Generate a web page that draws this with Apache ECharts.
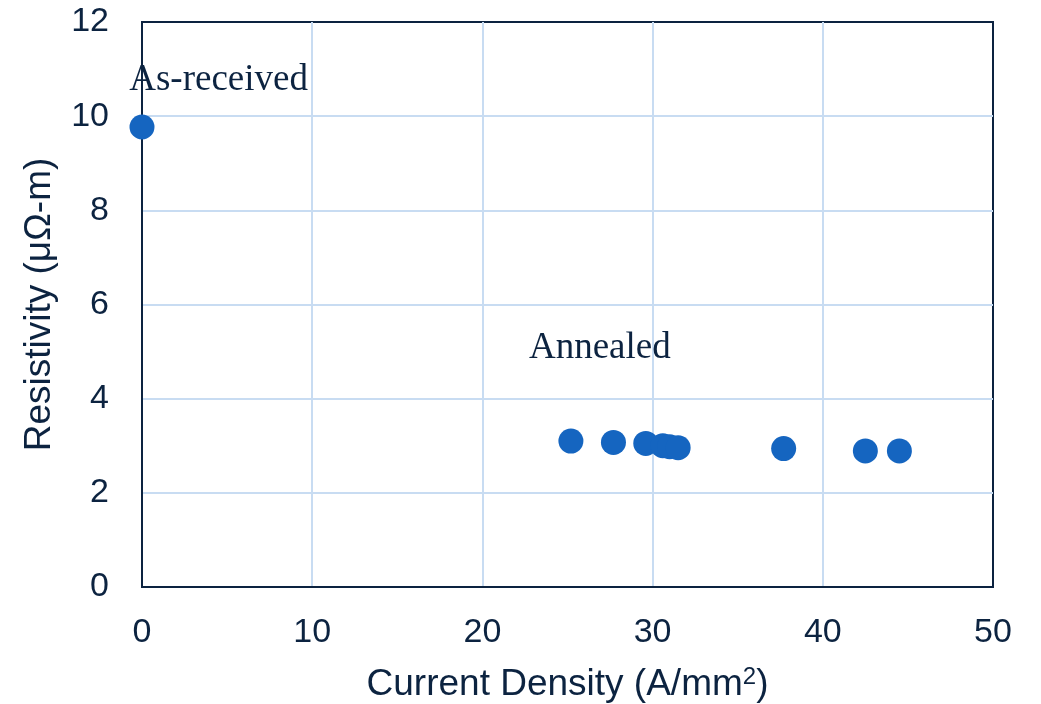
<!DOCTYPE html>
<html>
<head>
<meta charset="utf-8">
<style>
  html, body { margin: 0; padding: 0; background: #ffffff; }
  #chart { width: 1041px; height: 704px; }
</style>
<script src="https://cdn.jsdelivr.net/npm/echarts@6/dist/echarts.min.js"></script>
</head>
<body>
<div id="chart"></div>
<script>
// Current density (A/mm²) and resistivity (µΩ·m) for each sample
const currentDensity = [0, 25.2, 27.7, 29.6, 30.6, 31.0, 31.5, 37.7, 42.5, 44.5];
const resistivity    = [9.77, 3.10, 3.07, 3.05, 3.00, 2.98, 2.96, 2.94, 2.89, 2.89];

// Axis ranges and tick steps
const xTicks = { min: 0, max: 50, step: 10 };
const yTicks = { min: 0, max: 12, step: 2 };

// Group annotations, placed in data coordinates
const noteText = ['As-received', 'Annealed'];
const noteX    = [4.5, 26.9];
const noteY    = [10.77, 5.08];

const ink = '#0c2340';
const gridBlue = '#c8dcf2';
const dotBlue = '#1565c0';

const points = currentDensity.map((x, i) => [x, resistivity[i]]);
const notes = noteText.map((t, i) => ({
  coord: [noteX[i], noteY[i]],
  value: t
}));

const chart = echarts.init(document.getElementById('chart'), null, { renderer: 'canvas' });
chart.setOption({
  animation: false,
  backgroundColor: '#ffffff',
  grid: {
    left: 142, right: 48, top: 22, bottom: 117,
    outerBoundsMode: 'none',
    containLabel: false,
    show: true,
    borderColor: ink,
    borderWidth: 2,
    backgroundColor: 'transparent'
  },
  xAxis: {
    type: 'value',
    min: xTicks.min, max: xTicks.max, interval: xTicks.step,
    name: 'Current Density (A/mm{sup|2})',
    nameLocation: 'middle',
    nameGap: 78,
    nameTextStyle: {
      color: ink, fontFamily: 'Liberation Sans', fontSize: 37,
      rich: { sup: { color: ink, fontFamily: 'Liberation Sans', fontSize: 24, verticalAlign: 'top', padding: [0, 0, 16, 0] } }
    },
    axisLine: { show: true, lineStyle: { color: ink, width: 2 } },
    axisTick: { show: false },
    axisLabel: { color: ink, fontFamily: 'Liberation Sans', fontSize: 34, margin: 29 },
    splitLine: { show: true, showMinLine: false, showMaxLine: false, lineStyle: { color: gridBlue, width: 2 } }
  },
  yAxis: {
    type: 'value',
    min: yTicks.min, max: yTicks.max, interval: yTicks.step,
    name: 'Resistivity (μΩ-m)',
    nameLocation: 'middle',
    nameGap: 84,
    nameTextStyle: { color: ink, fontFamily: 'Liberation Sans', fontSize: 37 },
    axisLine: { show: true, lineStyle: { color: ink, width: 2 } },
    axisTick: { show: false },
    axisLabel: { color: ink, fontFamily: 'Liberation Sans', fontSize: 34, margin: 33 },
    splitLine: { show: true, showMinLine: false, showMaxLine: false, lineStyle: { color: gridBlue, width: 2 } }
  },
  series: [{
    type: 'scatter',
    data: points,
    symbol: 'circle',
    symbolSize: 25,
    itemStyle: { color: dotBlue, opacity: 1 },
    clip: false,
    z: 3,
    markPoint: {
      symbol: 'circle',
      symbolSize: 0,
      silent: true,
      label: {
        show: true,
        position: 'inside',
        formatter: p => p.value,
        color: ink,
        fontFamily: 'Liberation Serif',
        fontSize: 37
      },
      data: notes
    }
  }]
});
</script>
</body>
</html>
